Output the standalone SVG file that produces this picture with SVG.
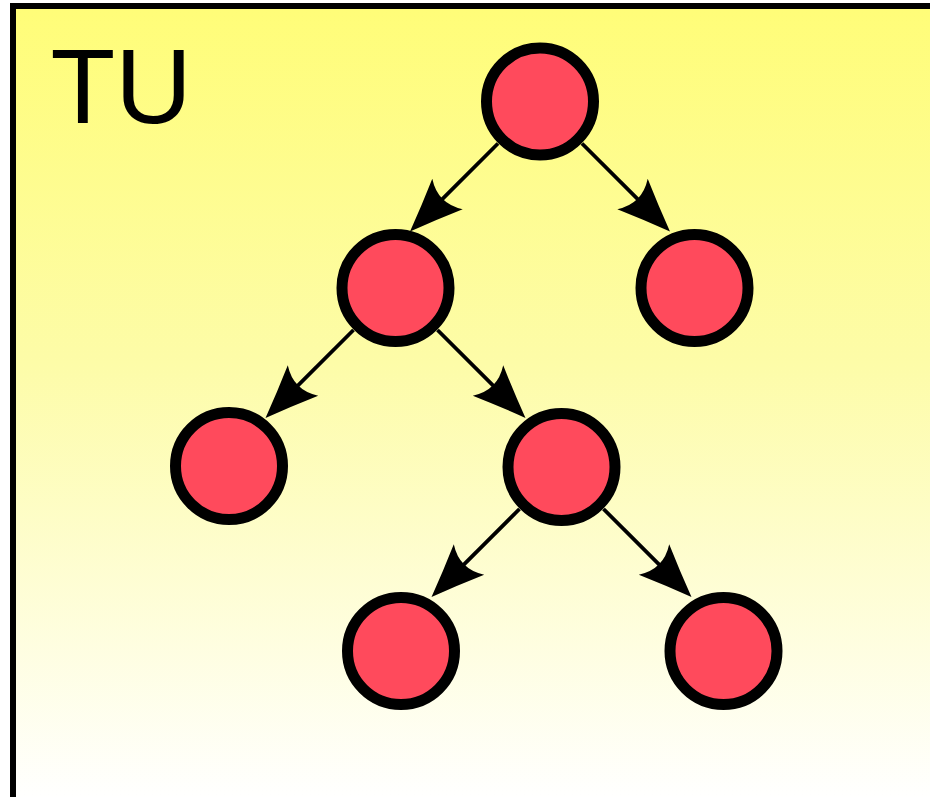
<svg xmlns="http://www.w3.org/2000/svg" width="930" height="797" viewBox="0 0 930 797">
  <defs>
    <linearGradient id="bg" x1="0" y1="6" x2="0" y2="800" gradientUnits="userSpaceOnUse">
      <stop offset="0" stop-color="#FFFD78"/>
      <stop offset="0.45" stop-color="#FDFCA8"/>
      <stop offset="1" stop-color="#FFFFFF"/>
    </linearGradient>
    <marker id="ah" markerUnits="userSpaceOnUse" orient="auto" refX="-40" refY="0" markerWidth="60" markerHeight="50" overflow="visible">
      <path d="M0,0 Q-27,-10.2 -53,-21.5 Q-39,0 -53,21.5 Q-27,10.2 0,0 Z" fill="#000"/>
    </marker>
    <style>
      .node { fill: #FF4A5C; stroke: #000; stroke-width: 11; }
      .edge { stroke: #000; stroke-width: 3.8; fill: none; marker-end: url(#ah); }
      .label { font-family: "Liberation Sans", Arial, sans-serif; font-size: 106px; fill: #000; }
    </style>
  </defs>
  <rect x="0" y="0" width="930" height="797" fill="#FFFFFF"/>
  <rect x="13" y="6" width="930" height="800" fill="url(#bg)" stroke="#000" stroke-width="6"/>
  <text class="label" x="50.5" y="123">TU</text>

  <g id="nodes">
    <g id="n-root"><circle class="node" cx="540" cy="101.5" r="53.5"/></g>
    <g id="n-a"><circle class="node" cx="395.5" cy="288" r="53.5"/></g>
    <g id="n-b"><circle class="node" cx="694.5" cy="288" r="53.5"/></g>
    <g id="n-c"><circle class="node" cx="229" cy="466" r="53.5"/></g>
    <g id="n-d"><circle class="node" cx="561.5" cy="467" r="53.5"/></g>
    <g id="n-e"><circle class="node" cx="401" cy="651" r="53.5"/></g>
    <g id="n-f"><circle class="node" cx="723.5" cy="651" r="53.5"/></g>
  </g>

  <g id="connectors">
    <line class="edge" x1="498" y1="143.5" x2="438.3" y2="203.2"/>
    <line class="edge" x1="582" y1="143.5" x2="641.7" y2="203.2"/>
    <line class="edge" x1="353.5" y1="330" x2="293.8" y2="389.7"/>
    <line class="edge" x1="437.5" y1="330" x2="497.2" y2="389.7"/>
    <line class="edge" x1="519.5" y1="509" x2="459.8" y2="568.7"/>
    <line class="edge" x1="603.5" y1="509" x2="663.2" y2="568.7"/>
  </g>
</svg>
